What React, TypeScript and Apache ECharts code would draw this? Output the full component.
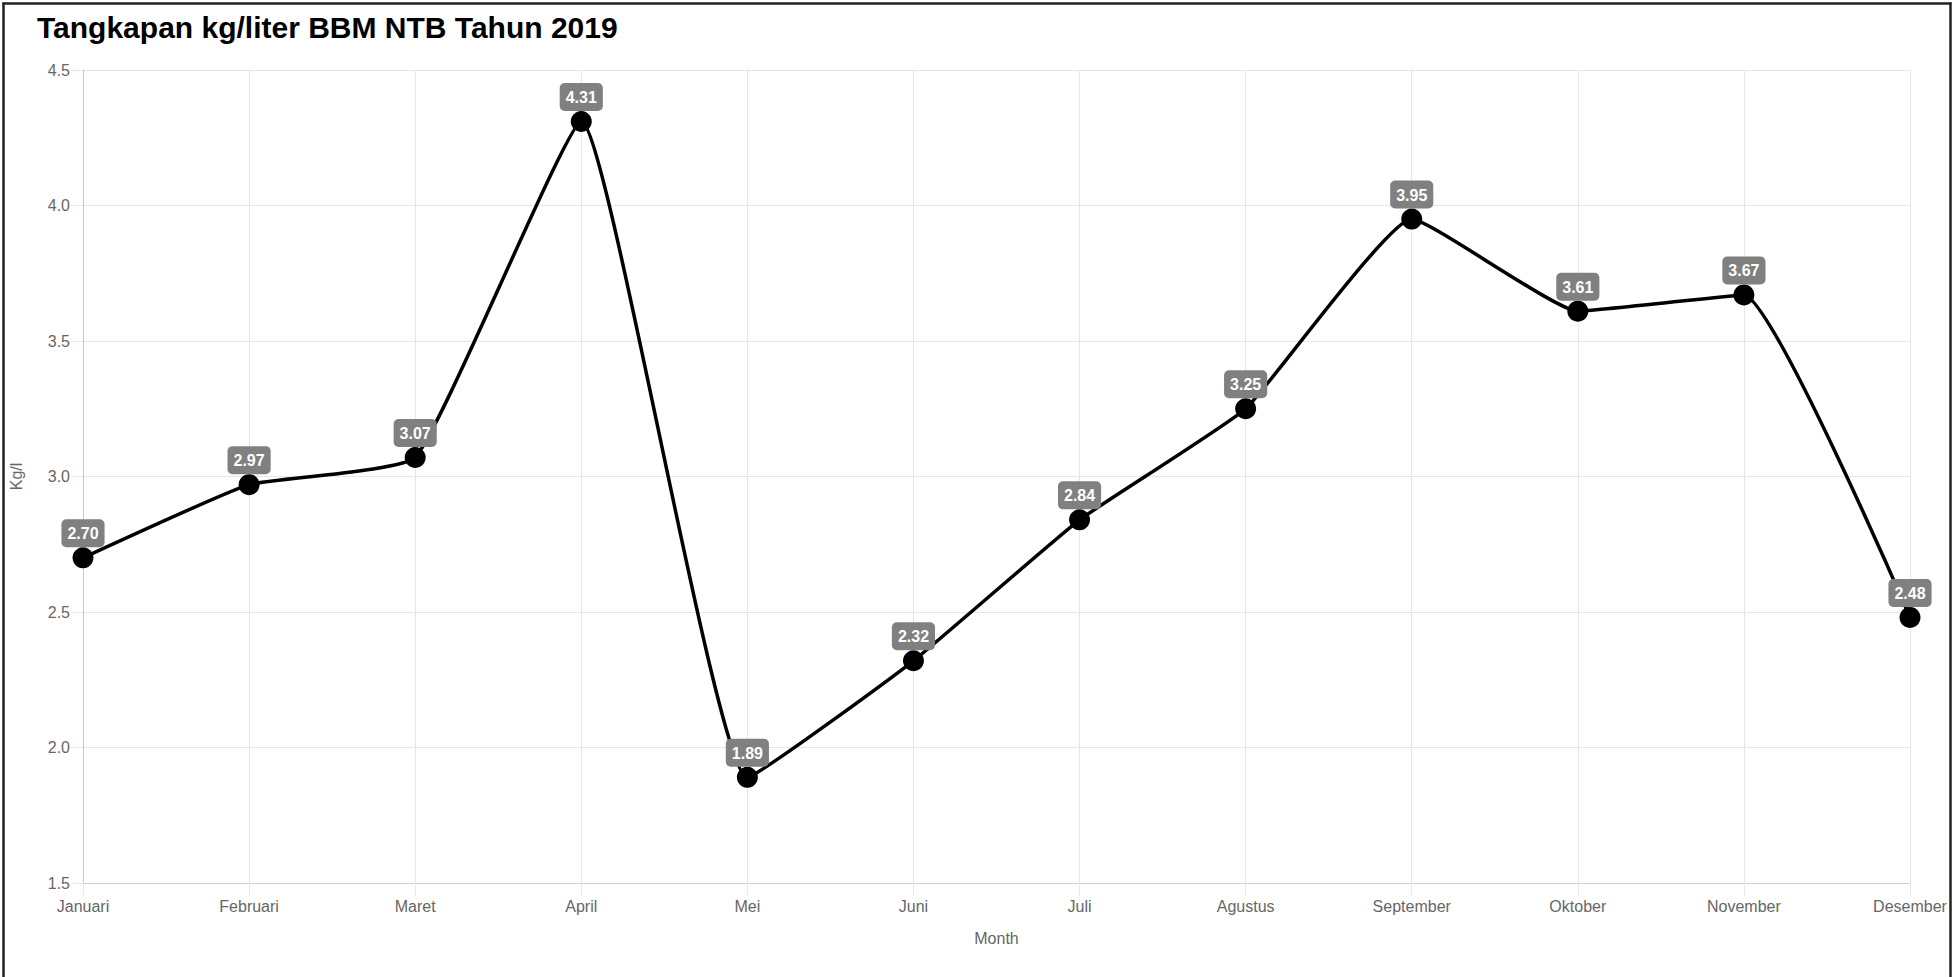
import React, { useEffect, useRef } from "react";
import * as echarts from "echarts";

const titleText = "Tangkapan kg/liter BBM NTB Tahun 2019";
const months = [
  "Januari", "Februari", "Maret", "April", "Mei", "Juni",
  "Juli", "Agustus", "September", "Oktober", "November", "Desember",
];
const values = [2.70, 2.97, 3.07, 4.31, 1.89, 2.32, 2.84, 3.25, 3.95, 3.61, 3.67, 2.48];
const yMin = 1.5;
const yMax = 4.5;
const yStep = 0.5;
const xAxisName = "Month";
const yAxisName = "Kg/l";

const FONT = "'Liberation Sans', Arial, Helvetica, sans-serif";

export default function App() {
  const ref = useRef<HTMLDivElement>(null);
  useEffect(() => {
    document.body.style.margin = "0";
    document.body.style.overflow = "hidden";
    if (!ref.current) return;
    const chart = echarts.init(ref.current, null, { renderer: "svg" });
    chart.setOption({
      animation: false,
      backgroundColor: "#ffffff",
      title: {
        text: titleText,
        left: 37,
        top: 12,
        padding: 0,
        textStyle: { fontFamily: FONT, fontSize: 30, fontWeight: "bold", color: "#000" },
      },
      grid: { left: 77, right: 45, top: 70, bottom: 94, containLabel: false },
      xAxis: {
        type: "category",
        data: months,
        boundaryGap: false,
        name: xAxisName,
        nameLocation: "middle",
        nameGap: 47,
        nameTextStyle: { fontFamily: FONT, fontSize: 16, color: "#666" },
        axisLine: { show: true, lineStyle: { color: "#d0d0d0", width: 1 } },
        axisTick: { show: true, length: 12, lineStyle: { color: "#e6e6e6" } },
        axisLabel: { fontFamily: FONT, fontSize: 16, color: "#666", margin: 15 },
        splitLine: { show: true, lineStyle: { color: "#e6e6e6", width: 1 } },
      },
      yAxis: {
        type: "value",
        min: yMin,
        max: yMax,
        interval: yStep,
        name: yAxisName,
        nameLocation: "middle",
        nameGap: 59,
        nameTextStyle: { fontFamily: FONT, fontSize: 16, color: "#666" },
        axisLine: { show: true, lineStyle: { color: "#c8c8c8", width: 1 } },
        axisTick: { show: true, length: 12, lineStyle: { color: "#e6e6e6" } },
        axisLabel: {
          fontFamily: FONT,
          fontSize: 16,
          color: "#666",
          margin: 13,
          formatter: (v: number) => v.toFixed(1),
        },
        splitLine: { show: true, lineStyle: { color: "#e6e6e6", width: 1 } },
      },
      series: [
        {
          type: "line",
          data: values,
          smooth: 0.12,
          symbol: "circle",
          symbolSize: 21,
          lineStyle: { color: "#000", width: 3.5 },
          itemStyle: { color: "#000" },
          label: {
            show: true,
            position: "top",
            distance: 0,
            formatter: (p: any) => Number(p.value).toFixed(2),
            fontFamily: FONT,
            fontSize: 16,
            fontWeight: "bold",
            color: "#fff",
            backgroundColor: "#808080",
            borderRadius: 5,
            padding: [6, 6, 5, 6],
            lineHeight: 17,
          },
        },
      ],
      graphic: [
        { type: "line", shape: { x1: 3.5, y1: 2.5, x2: 3.5, y2: 977 }, style: { stroke: "#222", lineWidth: 2.5 } },
        { type: "line", shape: { x1: 2.5, y1: 3.5, x2: 1951.5, y2: 3.5 }, style: { stroke: "#222", lineWidth: 2.5 } },
        { type: "line", shape: { x1: 1950.5, y1: 2.5, x2: 1950.5, y2: 977 }, style: { stroke: "#222", lineWidth: 2.5 } },
      ],
    });
    return () => chart.dispose();
  }, []);
  return <div ref={ref} style={{ width: 1955, height: 977 }} />;
}
